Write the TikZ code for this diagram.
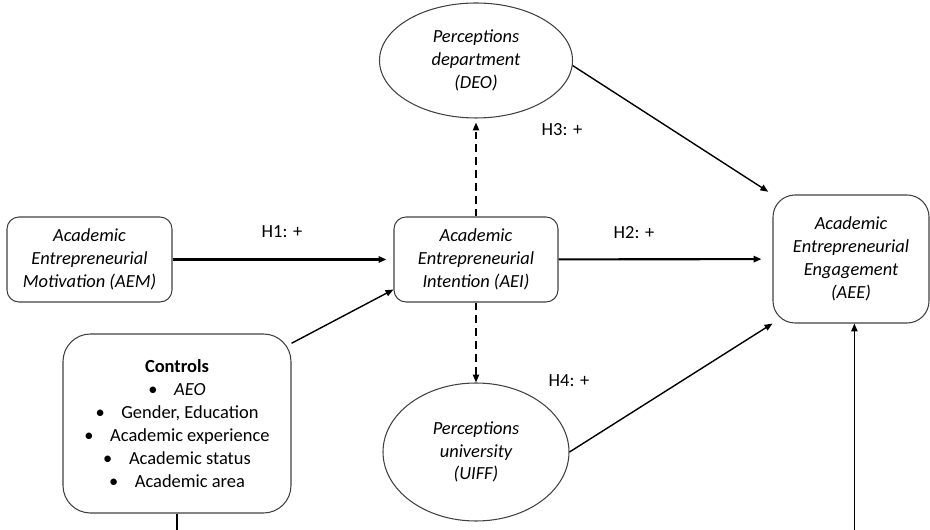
\documentclass[tikz,border=0pt]{standalone}
\usepackage{fontspec}
\setmainfont{Carlito}
\usetikzlibrary{arrows.meta,shapes.geometric}

\newcommand{\bul}{\textbullet\hspace{0.9em}}

\begin{document}
\begin{tikzpicture}[font=\fontsize{10.5}{13}\selectfont]
	\tikzstyle{BoxStyle}=[draw=black!75,line width=0.6pt,rounded corners=0.24cm,align=center,inner sep=0pt,font=\fontsize{10.5}{13}\selectfont\itshape]
	\tikzstyle{OvalStyle}=[ellipse,draw=black!75,line width=0.6pt,align=center,inner sep=0pt,font=\fontsize{10.5}{13}\selectfont\itshape]
	\tikzstyle{EdgeStyle}=[-{Triangle[length=4.5pt,width=3.6pt]},line width=0.8pt]
	\tikzstyle{LabelStyle}=[inner sep=1pt]
	\path[use as bounding box,clip] (0,0) rectangle (18.6,10.6);
	\node[BoxStyle,minimum width=3.30cm,minimum height=1.70cm] (AEM) at (1.79,5.41) {Academic\\Entrepreneurial\\Motivation (AEM)};
	\node[BoxStyle,minimum width=3.28cm,minimum height=1.70cm] (AEI) at (9.52,5.41) {Academic\\Entrepreneurial\\Intention (AEI)};
	\node[BoxStyle,rounded corners=0.44cm,minimum width=3.12cm,minimum height=2.56cm] (AEE) at (17.02,5.42) {Academic\\Entrepreneurial\\Engagement\\(AEE)};
	\node[OvalStyle,minimum width=3.86cm,minimum height=2.30cm] (DEO) at (9.52,9.39) {Perceptions\\department\\(DEO)};
	\node[OvalStyle,minimum width=3.72cm,minimum height=2.76cm] (UIFF) at (9.52,1.56) {Perceptions\\university\\(UIFF)};
	\node[BoxStyle,rounded corners=0.55cm,minimum width=4.56cm,minimum height=3.58cm,font=\fontsize{10.5}{13}\selectfont] (CTRL) at (3.54,2.13) {\textbf{Controls}\\\bul\textit{AEO}\\\bul Gender, Education\\\bul Academic experience\\\bul Academic status\\\bul Academic area};
	\node[LabelStyle] (H1) at (5.64,5.96) {H1: +};
	\node[LabelStyle] (H2) at (12.68,5.94) {H2: +};
	\node[LabelStyle] (H3) at (11.24,8.00) {H3: +};
	\node[LabelStyle] (H4) at (11.38,2.98) {H4: +};
	% direct paths
	\draw[EdgeStyle,line width=1.2pt,shorten >=0.14cm] (AEM) -- (AEI);
	\draw[EdgeStyle] (CTRL.35) -- (AEI.200);
	\draw[EdgeStyle,line width=1.2pt,shorten >=0.22cm] (AEI) -- (AEE);
	% mediators
	\tikzstyle{EdgeStyle}=[-{Triangle[length=4.5pt,width=3.6pt]},line width=0.8pt,dash pattern=on 4.5pt off 2.8pt]
	\draw[EdgeStyle,shorten >=0.08cm] (AEI) -- (DEO);
	\draw[EdgeStyle] (AEI) -- (UIFF);
	\tikzstyle{EdgeStyle}=[-{Triangle[length=4.5pt,width=3.6pt]},line width=0.8pt]
	\draw[EdgeStyle,shorten >=0.1cm] (DEO.-3) -- (AEE.north west);
	\draw[EdgeStyle] (UIFF.east) -- (AEE.south west);
	% controls to engagement
	\coordinate (low) at (9,-0.5);
	\draw[EdgeStyle] (CTRL.south) -- (CTRL.south |- low) -| (AEE.-87);
	\end{tikzpicture}
\end{document}
